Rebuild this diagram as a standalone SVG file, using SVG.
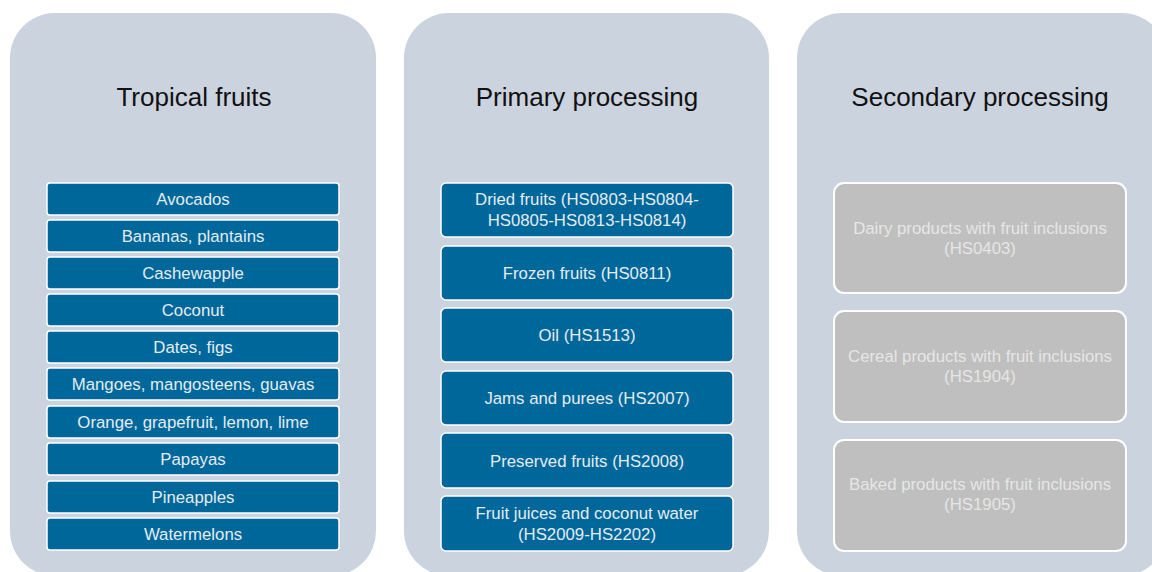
<svg xmlns="http://www.w3.org/2000/svg" width="1152" height="572" viewBox="0 0 1152 572">
<style>
.panel{fill:#CBD3DE}
.title{font-family:"Liberation Sans",Arial,sans-serif;font-size:26px;fill:#111;text-anchor:middle}
.blue{fill:#00679A;stroke:#FFFFFF;stroke-width:1.5}
.gray{fill:#BFBFBF;stroke:#FFFFFF;stroke-width:2}
.lbl{font-family:"Liberation Sans",Arial,sans-serif;font-size:16.8px;fill:#E4ECF2;text-anchor:middle}
.glbl{font-family:"Liberation Sans",Arial,sans-serif;font-size:16.8px;fill:#E6E6E6;text-anchor:middle}
</style>
<rect width="1152" height="572" fill="#FFFFFF"/>
<g id="panel-tropical">
<rect class="panel" x="10" y="13" width="366" height="563" rx="45"/>
<text class="title" x="194" y="106">Tropical fruits</text>
</g>
<g id="panel-primary">
<rect class="panel" x="404" y="13" width="365" height="563" rx="45"/>
<text class="title" x="587" y="106">Primary processing</text>
</g>
<g id="panel-secondary">
<rect class="panel" x="797" y="13" width="370" height="563" rx="45"/>
<text class="title" x="980" y="106">Secondary processing</text>
</g>
<g id="tf-avocados"><rect class="blue" x="47" y="183" width="292" height="32" rx="3"/><text class="lbl" x="193" y="205">Avocados</text></g>
<g id="tf-bananas"><rect class="blue" x="47" y="220" width="292" height="32" rx="3"/><text class="lbl" x="193" y="242">Bananas, plantains</text></g>
<g id="tf-cashewapple"><rect class="blue" x="47" y="257" width="292" height="32" rx="3"/><text class="lbl" x="193" y="279">Cashewapple</text></g>
<g id="tf-coconut"><rect class="blue" x="47" y="294" width="292" height="32" rx="3"/><text class="lbl" x="193" y="316">Coconut</text></g>
<g id="tf-dates"><rect class="blue" x="47" y="331" width="292" height="32" rx="3"/><text class="lbl" x="193" y="353">Dates, figs</text></g>
<g id="tf-mangoes"><rect class="blue" x="47" y="368" width="292" height="32" rx="3"/><text class="lbl" x="193" y="390">Mangoes, mangosteens, guavas</text></g>
<g id="tf-orange"><rect class="blue" x="47" y="406" width="292" height="32" rx="3"/><text class="lbl" x="193" y="428">Orange, grapefruit, lemon, lime</text></g>
<g id="tf-papayas"><rect class="blue" x="47" y="443" width="292" height="32" rx="3"/><text class="lbl" x="193" y="465">Papayas</text></g>
<g id="tf-pineapples"><rect class="blue" x="47" y="481" width="292" height="32" rx="3"/><text class="lbl" x="193" y="503">Pineapples</text></g>
<g id="tf-watermelons"><rect class="blue" x="47" y="518" width="292" height="32" rx="3"/><text class="lbl" x="193" y="540">Watermelons</text></g>
<g id="pp-dried"><rect class="blue" x="441" y="183" width="292" height="54" rx="5"/><text class="lbl" x="587" y="205">Dried fruits (HS0803-HS0804-</text><text class="lbl" x="587" y="226">HS0805-HS0813-HS0814)</text></g>
<g id="pp-frozen"><rect class="blue" x="441" y="246" width="292" height="54" rx="5"/><text class="lbl" x="587" y="279">Frozen fruits (HS0811)</text></g>
<g id="pp-oil"><rect class="blue" x="441" y="308" width="292" height="54" rx="5"/><text class="lbl" x="587" y="341">Oil (HS1513)</text></g>
<g id="pp-jams"><rect class="blue" x="441" y="371" width="292" height="54" rx="5"/><text class="lbl" x="587" y="404">Jams and purees (HS2007)</text></g>
<g id="pp-preserved"><rect class="blue" x="441" y="433" width="292" height="55" rx="5"/><text class="lbl" x="587" y="467">Preserved fruits (HS2008)</text></g>
<g id="pp-juices"><rect class="blue" x="441" y="496" width="292" height="55" rx="5"/><text class="lbl" x="587" y="519">Fruit juices and coconut water</text><text class="lbl" x="587" y="540">(HS2009-HS2202)</text></g>
<g id="sp-dairy"><rect class="gray" x="834" y="183" width="292" height="110" rx="10"/><text class="glbl" x="980" y="234">Dairy products with fruit inclusions</text><text class="glbl" x="980" y="254">(HS0403)</text></g>
<g id="sp-cereal"><rect class="gray" x="834" y="311" width="292" height="111" rx="10"/><text class="glbl" x="980" y="362">Cereal products with fruit inclusions</text><text class="glbl" x="980" y="382">(HS1904)</text></g>
<g id="sp-baked"><rect class="gray" x="834" y="440" width="292" height="111" rx="10"/><text class="glbl" x="980" y="490">Baked products with fruit inclusions</text><text class="glbl" x="980" y="510">(HS1905)</text></g>
<g id="connectors"></g>
</svg>
